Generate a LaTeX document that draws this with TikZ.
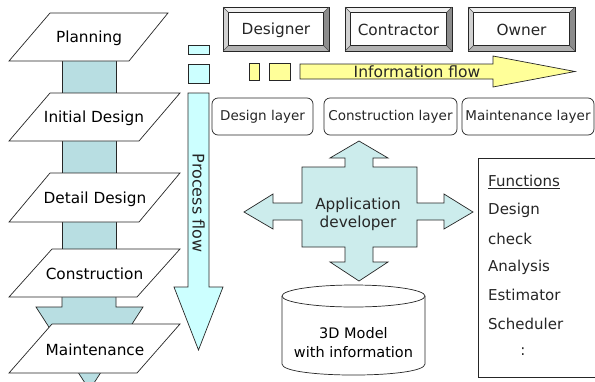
\documentclass[tikz,border=0pt]{standalone}
\usepackage{fontspec}
\setmainfont{DejaVu Sans}
\definecolor{tealbar}{RGB}{184,222,226}
\definecolor{pfcol}{RGB}{204,255,255}
\definecolor{appcol}{RGB}{204,236,236}
\definecolor{yel}{RGB}{255,255,153}
\newcommand{\bevbox}[4]{%
  \fill[white!94!black] (#2,7) -- (#3,7) -- (#3-5.5,12.5) -- (#2+5.5,12.5) -- cycle;
  \fill[white!82!black] (#2,7) -- (#2+5.5,12.5) -- (#2+5.5,45.5) -- (#2,51) -- cycle;
  \fill[white!55!black] (#3,7) -- (#3-5.5,12.5) -- (#3-5.5,45.5) -- (#3,51) -- cycle;
  \fill[white!70!black] (#2,51) -- (#2+5.5,45.5) -- (#3-5.5,45.5) -- (#3,51) -- cycle;
  \draw[ln] (#2,7) rectangle (#3,51);
  \draw[ln,fill=white] (#2+5.5,12.5) rectangle (#3-5.5,45.5);
  \draw[thin,black!70] (#2,7) -- (#2+5.5,12.5) (#3,7) -- (#3-5.5,12.5)
        (#2,51) -- (#2+5.5,45.5) (#3,51) -- (#3-5.5,45.5);
  \node[lbl] (#1) at ({(#2+#3)/2},30) {#4};%
}
\begin{document}
\begin{tikzpicture}[x=1pt,y=-1pt,
  ln/.style={draw=black!85,line width=0.7pt},
  bar/.style={ln,fill=tealbar},
  para/.style={ln,fill=white},
  pf/.style={ln,fill=pfcol},
  yb/.style={ln,fill=yel},
  lbl/.style={font=\fontsize{15.3}{18}\selectfont,inner sep=0pt,text=black!85},
  stage/.style={font=\fontsize{15.3}{18}\selectfont,inner sep=0pt,text=black},
  layerbox/.style={ln,fill=white,rounded corners=6pt},
  small/.style={font=\fontsize{13.5}{16}\selectfont,inner sep=0pt,text=black!85},
  fn/.style={font=\fontsize{15}{18}\selectfont,inner sep=0pt,anchor=west,text=black!85}]
\useasboundingbox (0,0) rectangle (595,381);
\clip (0,0) rectangle (595,381);

% ---- left column connectors
\draw[bar] (62,55) rectangle (116,98);
\draw[bar] (62,135) rectangle (116,178);
\draw[bar] (62,216) rectangle (116,254);
\draw[bar] (62,290) -- (62,307) -- (36,307) -- (89.5,390) -- (143,307) -- (116,307) -- (116,290) -- cycle;

% ---- stages
\draw[para] (9,61) -- (129,61) -- (168,13) -- (50,13) -- cycle;
\node[stage] (planning) at (89,38) {Planning};
\draw[para] (9,141) -- (139,141) -- (180,93) -- (50,93) -- cycle;
\node[stage] (initial) at (94,118) {Initial Design};
\draw[para] (9,222) -- (139,222) -- (180,173) -- (50,173) -- cycle;
\node[stage] (detail) at (95,199) {Detail Design};
\draw[para] (9,297) -- (137,297) -- (180,249) -- (52,249) -- cycle;
\node[stage] (construction) at (94.5,274) {Construction};
\draw[para] (9,373) -- (137,373) -- (180,324) -- (52,324) -- cycle;
\node[stage] (maintenance) at (95,350) {Maintenance};

% ---- process flow
\draw[pf] (188,45) rectangle (209,54);
\draw[pf] (188,64) rectangle (209,83);
\draw[pf] (188,93) -- (188,287) -- (174,287) -- (198.5,350) -- (223,287) -- (209,287) -- (209,93) -- cycle;
\node[lbl,rotate=-90,font=\fontsize{16}{18}\selectfont] (pflow) at (198.5,203) {Process flow};

% ---- actors
\bevbox{designer}{223}{329}{Designer}
\bevbox{contractor}{345}{452}{Contractor}
\bevbox{owner}{468}{575}{Owner}

% ---- information flow
\draw[yb] (249,63) rectangle (259,80);
\draw[yb] (269,63) rectangle (290,80);
\draw[yb] (300,64) -- (493,64) -- (493,56) -- (575,71.5) -- (493,87) -- (493,79) -- (300,79) -- cycle;
\node[lbl,font=\fontsize{15.5}{18}\selectfont] (iflow) at (417,72) {Information flow};

% ---- layers
\draw[layerbox] (212,98) rectangle (313,135);
\node[small] (dlayer) at (262.5,117) {Design layer};
\draw[layerbox] (324,98) rectangle (457,135);
\node[small] (clayer) at (390.5,117) {Construction layer};
\draw[layerbox] (462,98) rectangle (594,135);
\node[small] (mlayer) at (528,117) {Maintenance layer};

% ---- application developer cross
\draw[ln,fill=appcol] (302,167) -- (345,167) -- (345,158) -- (330,158) -- (359,141) -- (388,158) -- (373,158) -- (373,167)
  -- (417,167) -- (417,203) -- (444,203) -- (444,194) -- (473,212) -- (444,229) -- (444,220) -- (417,220)
  -- (417,247) -- (373,247) -- (373,262) -- (388,262) -- (359,281) -- (330,262) -- (345,262) -- (345,247)
  -- (302,247) -- (302,220) -- (273,220) -- (273,229) -- (244,212) -- (273,194) -- (273,203) -- (302,203) -- cycle;
\node[lbl,align=center,font=\fontsize{15.3}{18}\selectfont] (appdev) at (358,214) {Application\\developer};

% ---- functions
\draw[ln,fill=white] (478,158) rectangle (600,377);
\node[fn] (f0) at (488,182) {\underline{Functions}};
\node[fn] (f1) at (488,210.5) {Design};
\node[fn] (f2) at (488,238.5) {check};
\node[fn] (f3) at (488,267) {Analysis};
\node[fn] (f4) at (488,295) {Estimator};
\node[fn] (f5) at (488,323.5) {Scheduler};
\node[fn,anchor=center] (f6) at (523,352) {:};

% ---- 3D model cylinder
\draw[ln,fill=white] (282,296) -- (282,364) .. controls (282,378.7) and (425,378.7) .. (425,364) -- (425,296);
\draw[ln,fill=white] (353.5,296) ellipse [x radius=71.5pt, y radius=11pt];
\node[stage,align=center,font=\fontsize{14.5}{19}\selectfont] (model) at (353.5,343) {3D Model\\with information};
\end{tikzpicture}
\end{document}
